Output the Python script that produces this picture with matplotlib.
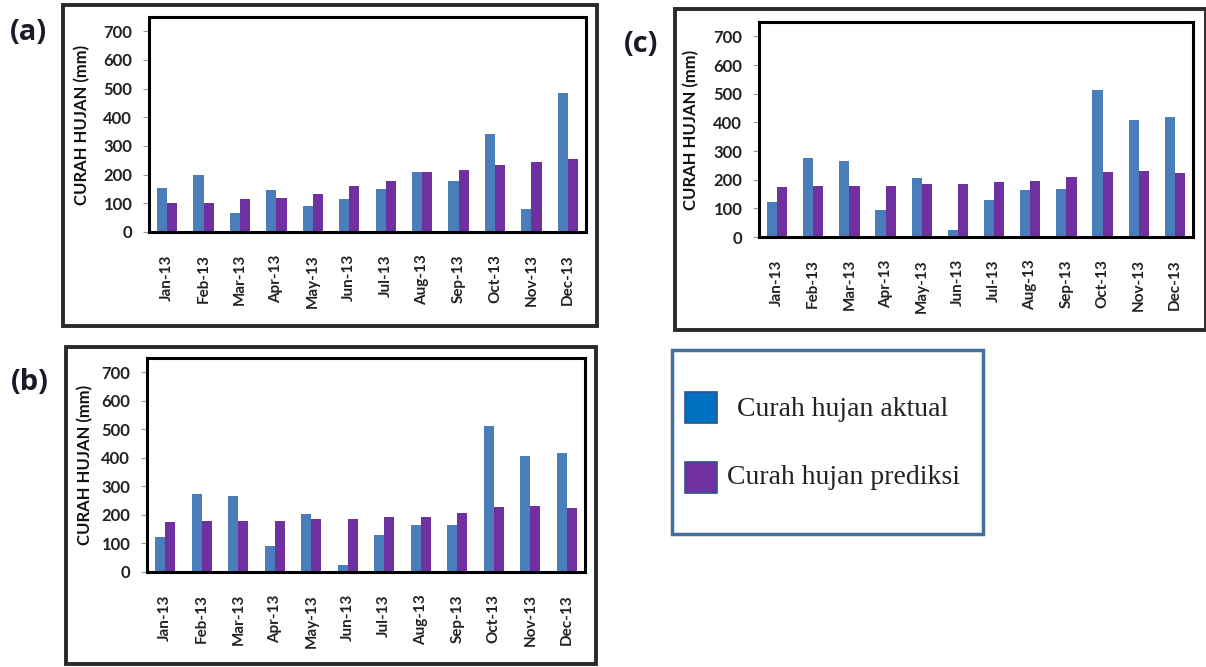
import matplotlib
matplotlib.use("Agg")
import matplotlib.pyplot as plt
from matplotlib.patches import Rectangle
import numpy as np

# data
months = ["Jan-13", "Feb-13", "Mar-13", "Apr-13", "May-13", "Jun-13",
          "Jul-13", "Aug-13", "Sep-13", "Oct-13", "Nov-13", "Dec-13"]

a_aktual = [153, 198, 68, 147, 92, 115, 151, 209, 179, 341, 79, 485]
a_prediksi = [102, 102, 114, 118, 132, 161, 179, 209, 218, 233, 245, 255]

b_aktual = [122, 275, 266, 92, 205, 24, 130, 164, 166, 511, 407, 417]
b_prediksi = [175, 177, 177, 177, 185, 185, 192, 194, 208, 228, 231, 224]

c_aktual = [121, 275, 266, 93, 205, 25, 130, 164, 166, 512, 407, 417]
c_prediksi = [176, 177, 177, 177, 185, 185, 193, 194, 208, 228, 231, 223]

yticks = [0, 100, 200, 300, 400, 500, 600, 700]

W, H = 1206, 667
BLUE = "#4a7ebb"
PURPLE = "#7030a0"
FONT = "Lato"

fig = plt.figure(figsize=(W / 100, H / 100), dpi=100)


def px_rect(l, t, r, b):
    return [l / W, 1 - b / H, (r - l) / W, (b - t) / H]


def outer_box(l, t, r, b, color="#2a2a2a", lw=2.8):
    fig.add_artist(Rectangle((l / W, 1 - b / H), (r - l) / W, (b - t) / H,
                             transform=fig.transFigure, fill=False,
                             edgecolor=color, linewidth=lw))


def draw_panel(box, label_xy, ylab_x, aktual, prediksi, label):
    ax = fig.add_axes(px_rect(*box))
    x = np.arange(len(months))
    w = 0.28
    ax.bar(x - w / 2, aktual, w, color=BLUE)
    ax.bar(x + w / 2, prediksi, w, color=PURPLE)
    ax.set_xlim(-0.5, len(months) - 0.5)
    ax.set_ylim(0, 750)
    ax.set_yticks(yticks)
    ax.set_yticklabels([str(v) for v in yticks], fontsize=12,
                       fontweight="bold", family=FONT, color="#222222")
    ax.set_xticks(x)
    ax.set_xticklabels(months, rotation=90, fontsize=11, fontweight="bold",
                       family=FONT, color="#222222")
    ax.tick_params(axis="x", length=0, pad=16)
    ax.tick_params(axis="y", length=4, width=0.8, color="#999999", pad=8)
    for s in ax.spines.values():
        s.set_linewidth(2.2)
        s.set_color("black")
    yc = (box[1] + box[3]) / 2
    fig.text(ylab_x / W, 1 - yc / H, "CURAH HUJAN (mm)", rotation=90,
             ha="center", va="center", fontsize=12, fontweight="bold",
             family=FONT, color="#111111")
    fig.text(label_xy[0] / W, 1 - label_xy[1] / H, label, ha="center",
             va="center", fontsize=21, fontweight="bold", family="Open Sans",
             color="#1a1a2a")
    return ax


# panel (a)
outer_box(63, 5, 597, 326)
draw_panel((149, 17, 586, 232), (28, 33), 82, a_aktual, a_prediksi, "(a)")

# panel (b)
outer_box(66, 347, 596, 664)
draw_panel((147, 358, 585, 572), (30, 383), 85, b_aktual, b_prediksi, "(b)")

# panel (c)
outer_box(675, 9, 1206, 330)
draw_panel((759, 22, 1193, 237), (641, 44), 691, c_aktual, c_prediksi, "(c)")

# legend box
outer_box(672, 350, 983, 534, color="#41719c", lw=2.5)
fig.add_artist(Rectangle((685 / W, 1 - 423 / H), 32 / W, 31 / H,
                         transform=fig.transFigure, facecolor="#0070c0",
                         edgecolor="#2f528f", linewidth=1.2))
fig.add_artist(Rectangle((685 / W, 1 - 493 / H), 32 / W, 31 / H,
                         transform=fig.transFigure, facecolor=PURPLE,
                         edgecolor="#2f528f", linewidth=1.2))
fig.text(737 / W, 1 - 410 / H, "Curah hujan aktual", ha="left",
         va="center", fontsize=20, family="Liberation Serif", color="#222222")
fig.text(727 / W, 1 - 477 / H, "Curah hujan prediksi", ha="left",
         va="center", fontsize=20, family="Liberation Serif", color="#222222")

fig.savefig("out.png", dpi=100)
